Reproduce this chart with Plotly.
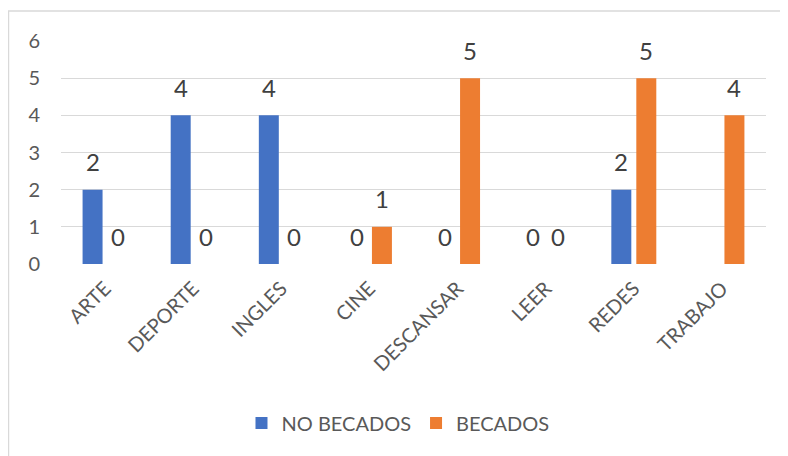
import plotly.graph_objects as go

categories = ["ARTE", "DEPORTE", "INGLES", "CINE", "DESCANSAR", "LEER", "REDES", "TRABAJO"]
no_becados = [2, 4, 4, 0, 0, 0, 2, None]
becados = [0, 0, 0, 1, 5, 0, 5, 4]
series_names = ["NO BECADOS", "BECADOS"]
y_ticks = [0, 1, 2, 3, 4, 5, 6]

BLUE = "#4472C4"
ORANGE = "#ED7D31"
FONT = "Lato, Liberation Sans, Arial, sans-serif"

fig = go.Figure()
fig.add_trace(go.Bar(x=categories, y=no_becados, name=series_names[0], marker_color=BLUE,
                     marker_line_width=0))
fig.add_trace(go.Bar(x=categories, y=becados, name=series_names[1], marker_color=ORANGE,
                     marker_line_width=0))

annotations = []
for vals, shift in ((no_becados, -12.5), (becados, 12.5)):
    for c, v in zip(categories, vals):
        if v is None:
            continue
        annotations.append(dict(x=c, y=v, text=str(v), showarrow=False, xshift=shift,
                                yshift=28, yanchor="middle",
                                font=dict(size=24, color="#404040", family=FONT)))

fig.update_layout(
    width=788, height=456,
    margin=dict(l=53, r=30, t=33, b=200),
    paper_bgcolor="white", plot_bgcolor="white",
    barmode="group", bargap=0.433, bargroupgap=0.2,
    font=dict(family=FONT, color="#595959", size=20),
    showlegend=True,
    legend=dict(orientation="h", x=0.478, y=-0.713, xanchor="center", yanchor="middle",
                font=dict(size=20, color="#595959", family=FONT), itemwidth=30,
                traceorder="normal"),
    annotations=annotations,
    shapes=[dict(type="rect", xref="paper", yref="paper", x0=-0.0745, x1=1.2, y0=-1.2, y1=1.1345,
                 line=dict(color="#D9D9D9", width=1.5), fillcolor="rgba(0,0,0,0)", layer="below")],
)
fig.update_yaxes(range=[0, 6], tickvals=y_ticks, showgrid=True, gridcolor="#D9D9D9", gridwidth=1.3,
                 zeroline=False, showline=False, ticklabelstandoff=20,
                 tickfont=dict(size=20, color="#595959"))
fig.update_xaxes(showgrid=False, showline=False, tickangle=-45, ticks="", ticklabelstandoff=8,
                 tickfont=dict(size=20, color="#595959"))

fig.write_html("out.html")
